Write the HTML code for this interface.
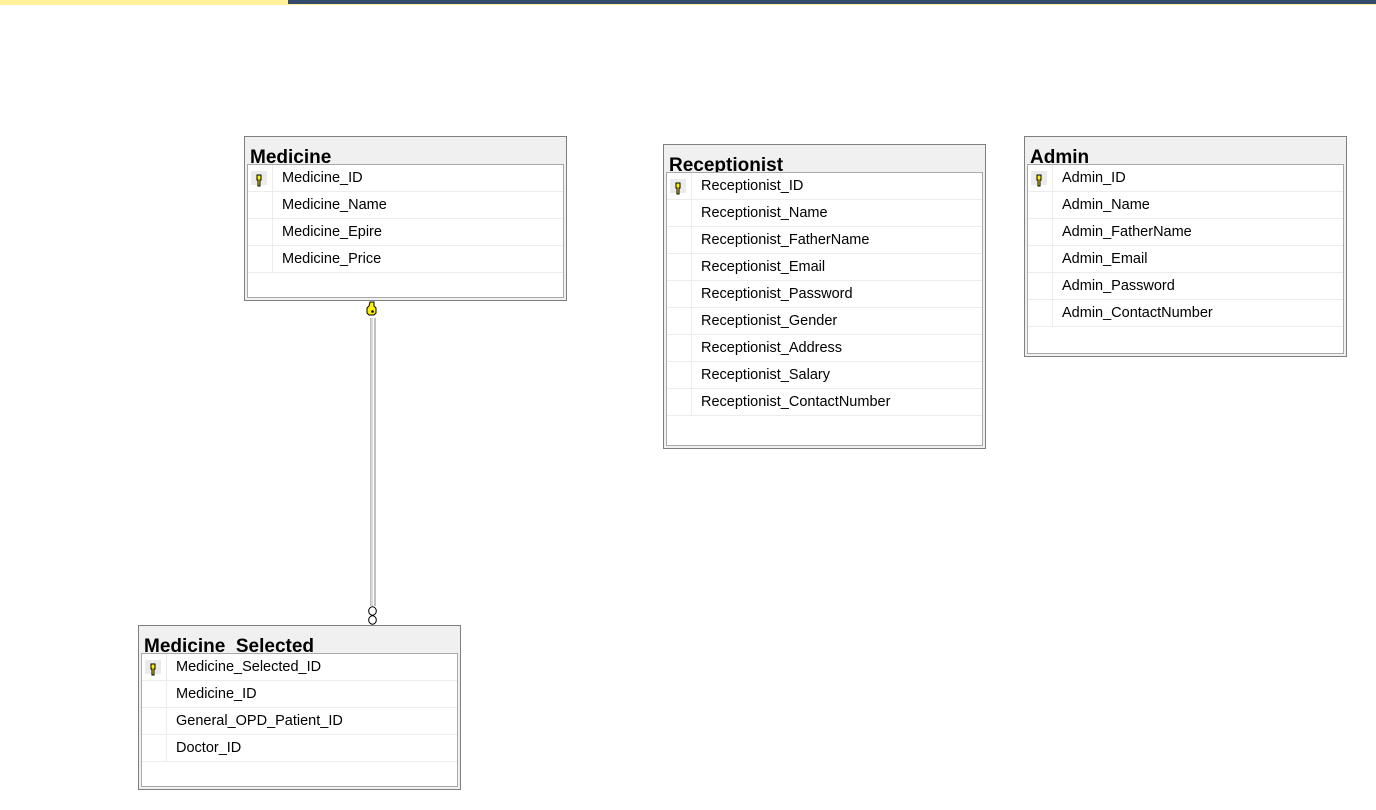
<!DOCTYPE html>
<html><head><meta charset="utf-8"><style>
body{margin:0;width:1376px;height:810px;background:#fff;position:relative;overflow:hidden;font-family:"Liberation Sans",sans-serif}
.t{position:absolute;width:321px;background:#f0f0f0;border:1px solid #7f7f7f}
.ti{position:absolute;left:5px;top:11px;font-weight:bold;font-size:19px;line-height:20px;color:#000;white-space:nowrap}
.in{position:absolute;left:2px;right:2px;top:27px;bottom:2px;border:1px solid #a9a9a9;background:#fff}
.r{height:26px;border-bottom:1px solid #ececec;position:relative;font-size:14.5px;line-height:26px;color:#000}
.r .k{position:absolute;left:0;top:0;width:24px;height:26px;border-right:1px solid #ececec}
.r span{position:absolute;left:34px;top:0}
.key{position:absolute;left:3px;top:6px;width:16px;height:14px;background:#ebebeb}
</style></head><body>
<div style="position:absolute;left:0;top:0;width:288px;height:5px;background:#fff09a"></div>
<div style="position:absolute;left:288px;top:0;width:1088px;height:4px;background:#35496a"></div>
<div style="position:absolute;left:288px;top:4px;width:1088px;height:1px;background:#fff09a"></div>

<svg width="1376" height="810" style="position:absolute;left:0;top:0">
<line x1="371" y1="318" x2="371" y2="606" stroke="#808080" stroke-width="1"/>
<line x1="375" y1="318" x2="375" y2="606" stroke="#808080" stroke-width="1"/>
<line x1="372" y1="318" x2="372" y2="606" stroke="#d8d8d8" stroke-width="2"/>
<path d="M370 302h4v4l2 2v5l-2 2h-5l-2-2v-5l2-2z" fill="#ffef00" stroke="#000"/>
<circle cx="372.5" cy="311.5" r="1.3" fill="#000"/>
<ellipse cx="372.5" cy="611" rx="3.8" ry="4.2" fill="#fff" stroke="#000"/>
<ellipse cx="372.5" cy="620" rx="3.8" ry="4.2" fill="#fff" stroke="#000"/>
</svg>

<div class="t" style="left:244px;top:136px;height:163px">
<div class="ti">Medicine</div>
<div class="in">
<div class="r"><div class="k"><div class="key"><svg width="16" height="14"><path d="M6 1h4v5h-1v6h-2v-6h-1z" fill="#ffef00" stroke="#000"/></svg></div></div><span>Medicine_ID</span></div>
<div class="r"><div class="k"></div><span>Medicine_Name</span></div>
<div class="r"><div class="k"></div><span>Medicine_Epire</span></div>
<div class="r"><div class="k"></div><span>Medicine_Price</span></div>
</div></div>

<div class="t" style="left:663px;top:144px;height:303px">
<div class="ti">Receptionist</div>
<div class="in">
<div class="r"><div class="k"><div class="key"><svg width="16" height="14"><path d="M6 1h4v5h-1v6h-2v-6h-1z" fill="#ffef00" stroke="#000"/></svg></div></div><span>Receptionist_ID</span></div>
<div class="r"><div class="k"></div><span>Receptionist_Name</span></div>
<div class="r"><div class="k"></div><span>Receptionist_FatherName</span></div>
<div class="r"><div class="k"></div><span>Receptionist_Email</span></div>
<div class="r"><div class="k"></div><span>Receptionist_Password</span></div>
<div class="r"><div class="k"></div><span>Receptionist_Gender</span></div>
<div class="r"><div class="k"></div><span>Receptionist_Address</span></div>
<div class="r"><div class="k"></div><span>Receptionist_Salary</span></div>
<div class="r"><div class="k"></div><span>Receptionist_ContactNumber</span></div>
</div></div>

<div class="t" style="left:1024px;top:136px;height:219px">
<div class="ti">Admin</div>
<div class="in">
<div class="r"><div class="k"><div class="key"><svg width="16" height="14"><path d="M6 1h4v5h-1v6h-2v-6h-1z" fill="#ffef00" stroke="#000"/></svg></div></div><span>Admin_ID</span></div>
<div class="r"><div class="k"></div><span>Admin_Name</span></div>
<div class="r"><div class="k"></div><span>Admin_FatherName</span></div>
<div class="r"><div class="k"></div><span>Admin_Email</span></div>
<div class="r"><div class="k"></div><span>Admin_Password</span></div>
<div class="r"><div class="k"></div><span>Admin_ContactNumber</span></div>
</div></div>

<div class="t" style="left:138px;top:625px;height:163px">
<div class="ti">Medicine_Selected</div>
<div class="in">
<div class="r"><div class="k"><div class="key"><svg width="16" height="14"><path d="M6 1h4v5h-1v6h-2v-6h-1z" fill="#ffef00" stroke="#000"/></svg></div></div><span>Medicine_Selected_ID</span></div>
<div class="r"><div class="k"></div><span>Medicine_ID</span></div>
<div class="r"><div class="k"></div><span>General_OPD_Patient_ID</span></div>
<div class="r"><div class="k"></div><span>Doctor_ID</span></div>
</div></div>
</body></html>
